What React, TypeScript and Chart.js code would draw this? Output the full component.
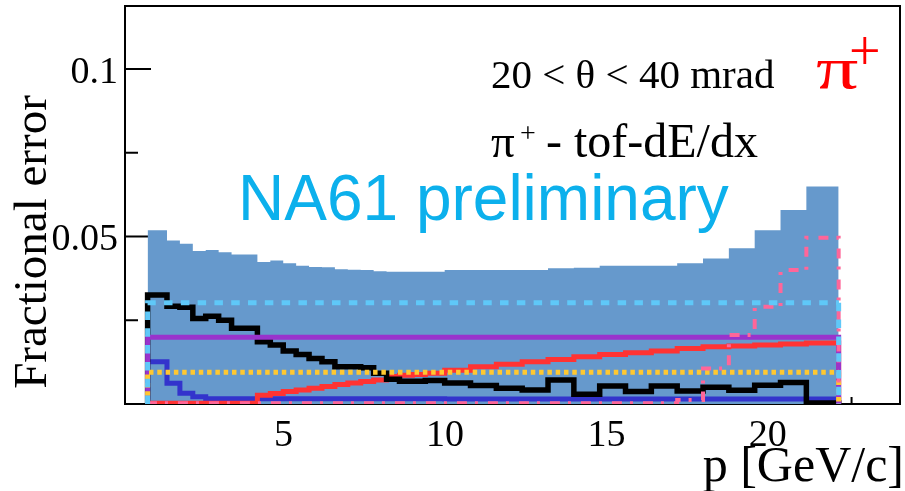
import React, { useEffect, useRef } from 'react';
import { Chart, registerables } from 'chart.js';

Chart.register(...registerables);

// Momentum bin edges, p [GeV/c]
const binEdges = [
  0.7, 1.3, 1.7, 2.1, 2.5, 2.9, 3.3, 3.7, 4.1, 4.5, 4.9, 5.3, 5.7, 6.1, 6.5, 6.9,
  7.3, 7.7, 8.1, 8.5, 8.9, 9.3, 9.9, 10.7, 11.5, 12.3, 13.1, 13.9, 14.7, 15.5,
  16.3, 17.1, 17.9, 18.7, 19.5, 20.3, 21.1, 22.1,
];

// Total fractional error (filled band)
const totalError = [
  0.0519, 0.0488, 0.0478, 0.0457, 0.046, 0.0453, 0.0446, 0.0446, 0.0424, 0.0428,
  0.042, 0.0413, 0.0409, 0.0408, 0.0402, 0.0401, 0.04, 0.0396, 0.0395, 0.0395,
  0.0395, 0.0395, 0.04, 0.04, 0.04, 0.04, 0.0405, 0.0407, 0.0413, 0.0413, 0.0413,
  0.042, 0.0434, 0.0465, 0.0519, 0.0579, 0.0649,
];

// Statistical error (black)
const statError = [
  0.0325, 0.0292, 0.0289, 0.0255, 0.0262, 0.025, 0.0226, 0.0226, 0.0186, 0.0176,
  0.0158, 0.0148, 0.0136, 0.0126, 0.0111, 0.0111, 0.0108, 0.0092, 0.0074, 0.0068,
  0.0068, 0.007, 0.0063, 0.0055, 0.0047, 0.0042, 0.0072, 0.0029, 0.0054, 0.0037,
  0.0054, 0.0039, 0.005, 0.0041, 0.0056, 0.0064, 0.0003,
];

// Rising component (red)
const redError = [
  0.0002, 0.0002, 0.0002, 0.0002, 0.0002, 0.0002, 0.0002, 0.0002, 0.0026, 0.0031,
  0.0037, 0.0042, 0.0047, 0.0052, 0.0058, 0.0063, 0.0067, 0.0072, 0.0082, 0.0086,
  0.0088, 0.0092, 0.0101, 0.0111, 0.0119, 0.0126, 0.0133, 0.0141, 0.0148, 0.0153,
  0.0158, 0.0166, 0.0171, 0.0173, 0.0176, 0.0179, 0.0182,
];

// Low-momentum component (dark blue)
const blueError = [
  0.0126, 0.0062, 0.0032, 0.0022, 0.0016, 0.0016, 0.0016, 0.0016, 0.0016, 0.0016,
  0.0016, 0.0016, 0.0016, 0.0016, 0.0016, 0.0016, 0.0016, 0.0016, 0.0016, 0.0016,
  0.0016, 0.0016, 0.0015, 0.0015, 0.0015, 0.0015, 0.0015, 0.0015, 0.0015, 0.0015,
  0.0015, 0.0015, 0.0015, 0.0015, 0.0015, 0.0015, 0.0015,
];

// High-momentum component (pink dash-dot)
const pinkError = [
  0.0002, 0.0002, 0.0002, 0.0002, 0.0002, 0.0002, 0.0002, 0.0002, 0.0002, 0.0002,
  0.0002, 0.0002, 0.0002, 0.0002, 0.0002, 0.0002, 0.0002, 0.0002, 0.0002, 0.0002,
  0.0002, 0.0002, 0.0002, 0.0002, 0.0002, 0.0002, 0.0002, 0.0002, 0.0002, 0.0002,
  0.0002, 0.0012, 0.0106, 0.0206, 0.029, 0.04, 0.0496,
];

// Flat components
const cyanLevel = 0.0302;
const purpleLevel = 0.0199;
const yellowLevel = 0.0095;

// Axes
const xRange = [0, 24];
const yRange = [0, 0.1188];
const xMajorTicks = [5, 10, 15, 20];
const xMinorTicks = [2.5, 7.5, 12.5, 17.5, 22.5];
const yMajorTicks = [0.05, 0.1];
const yMinorTicks = [0.025, 0.075];
const yTickLabels = ['0.05', '0.1'];
const xTickLabels = ['5', '10', '15', '20'];

const SERIF = '"Liberation Serif", "Times New Roman", serif';
const SANS = '"Liberation Sans", Arial, sans-serif';

function histPoints(edges: number[], vals: number[]) {
  const n = vals.length;
  const pts = [{ x: edges[0], y: 0 }];
  vals.forEach((v, i) => pts.push({ x: edges[i], y: v }));
  pts.push({ x: edges[n], y: vals[n - 1] });
  pts.push({ x: edges[n], y: 0 });
  return pts;
}

function flatPoints(edges: number[], v: number) {
  const lo = edges[0];
  const hi = edges[edges.length - 1];
  return [
    { x: lo, y: 0 },
    { x: lo, y: v },
    { x: hi, y: v },
    { x: hi, y: 0 },
  ];
}

function lineSet(data: any, color: string, width: number, dash: number[] = []) {
  return {
    data,
    borderColor: color,
    borderWidth: width,
    borderDash: dash,
    borderCapStyle: 'butt',
    borderJoinStyle: 'miter',
    stepped: true,
    fill: false,
    pointRadius: 0,
    tension: 0,
  };
}

const decorPlugin = {
  id: 'decor',
  beforeDatasetsDraw(chart: any) {
    const { ctx, chartArea: a, scales } = chart;
    const xs = scales.x;
    const ys = scales.y;
    ctx.save();
    ctx.strokeStyle = '#000';
    ctx.lineWidth = 2;
    ctx.strokeRect(a.left, a.top, a.right - a.left, a.bottom - a.top);
    const seg = (x1: number, y1: number, x2: number, y2: number) => {
      ctx.beginPath();
      ctx.moveTo(x1, y1);
      ctx.lineTo(x2, y2);
      ctx.stroke();
    };
    yMajorTicks.forEach((v) => {
      const py = ys.getPixelForValue(v);
      seg(a.left, py, a.left + 26, py);
    });
    yMinorTicks.forEach((v) => {
      const py = ys.getPixelForValue(v);
      seg(a.left, py, a.left + 13, py);
    });
    xMajorTicks.forEach((v) => {
      const px = xs.getPixelForValue(v);
      seg(px, a.bottom, px, a.bottom - 14);
    });
    xMinorTicks.forEach((v) => {
      const px = xs.getPixelForValue(v);
      seg(px, a.bottom, px, a.bottom - 7);
    });

    // tick labels
    ctx.fillStyle = '#000';
    ctx.font = `38px ${SERIF}`;
    ctx.textAlign = 'right';
    ctx.textBaseline = 'alphabetic';
    yMajorTicks.forEach((v, i) => {
      const py = ys.getPixelForValue(v);
      ctx.fillText(yTickLabels[i], a.left - 7, py + 14);
    });
    ctx.textAlign = 'center';
    xMajorTicks.forEach((v, i) => {
      const px = xs.getPixelForValue(v);
      ctx.fillText(xTickLabels[i], px - 3, a.bottom + 42);
    });

    // axis titles
    ctx.font = `50px ${SERIF}`;
    ctx.textAlign = 'right';
    ctx.fillText('p [GeV/c]', a.right + 4, a.bottom + 77);

    ctx.save();
    ctx.translate(46, 242);
    ctx.rotate(-Math.PI / 2);
    ctx.font = `47px ${SERIF}`;
    ctx.textAlign = 'center';
    ctx.fillText('Fractional error', 0, 0);
    ctx.restore();
    ctx.restore();
  },
  afterDatasetsDraw(chart: any) {
    const { ctx } = chart;
    ctx.save();
    ctx.fillStyle = '#000';
    ctx.textAlign = 'left';
    ctx.textBaseline = 'alphabetic';
    ctx.font = `41px ${SERIF}`;
    ctx.fillText('20 < \u03b8 < 40 mrad', 491, 88);

    ctx.font = `47px ${SERIF}`;
    ctx.fillText('\u03c0', 491, 157);
    ctx.font = `28px ${SERIF}`;
    ctx.fillText('+', 520, 142);
    ctx.font = `48px ${SERIF}`;
    ctx.fillText('- tof-dE/dx', 546, 157);

    // particle tag
    ctx.fillStyle = '#ff0000';
    ctx.save();
    ctx.translate(816, 88);
    ctx.scale(1.4, 1);
    ctx.font = `60px ${SERIF}`;
    ctx.fillText('\u03c0', 0, 0);
    ctx.restore();
    ctx.font = `56px ${SERIF}`;
    ctx.fillText('+', 849, 70);

    ctx.fillStyle = '#0cb0ec';
    ctx.font = `64px ${SANS}`;
    ctx.fillText('NA61 preliminary', 238, 220);
    ctx.restore();
  },
};

export default function App() {
  const canvasRef = useRef<HTMLCanvasElement | null>(null);

  useEffect(() => {
    const canvas = canvasRef.current;
    if (!canvas) return;
    const chart = new Chart(canvas, {
      type: 'line',
      data: {
        datasets: [
          lineSet(flatPoints(binEdges, cyanLevel), '#5fc8f8', 5, [8.5, 8.3]),
          lineSet(histPoints(binEdges, pinkError), '#ff6699', 4, [10, 8, 3, 10]),
          lineSet(flatPoints(binEdges, yellowLevel), '#ffc830', 5, [4.5, 3.8]),
          lineSet(flatPoints(binEdges, purpleLevel), '#9933cc', 5),
          lineSet(histPoints(binEdges, statError), '#000000', 5.5),
          lineSet(histPoints(binEdges, redError), '#ff3333', 5),
          lineSet(histPoints(binEdges, blueError), '#3333cc', 5),
          {
            data: histPoints(binEdges, totalError),
            borderWidth: 0,
            borderColor: 'rgba(0,0,0,0)',
            backgroundColor: '#6699cc',
            fill: 'origin',
            stepped: true,
            pointRadius: 0,
            tension: 0,
          },
        ] as any,
      },
      options: {
        responsive: false,
        animation: false,
        devicePixelRatio: 1,
        layout: { padding: { left: 125, top: 6, right: 5, bottom: 87 } },
        plugins: {
          legend: { display: false },
          tooltip: { enabled: false },
        },
        events: [],
        scales: {
          x: { type: 'linear', min: xRange[0], max: xRange[1], display: false },
          y: { type: 'linear', min: yRange[0], max: yRange[1], display: false },
        },
      } as any,
      plugins: [decorPlugin],
    });
    return () => chart.destroy();
  }, []);

  return (
    <div style={{ position: 'fixed', left: 0, top: 0, width: 905, height: 491, background: '#fff' }}>
      <canvas ref={canvasRef} width={905} height={491} style={{ display: 'block' }} />
    </div>
  );
}
